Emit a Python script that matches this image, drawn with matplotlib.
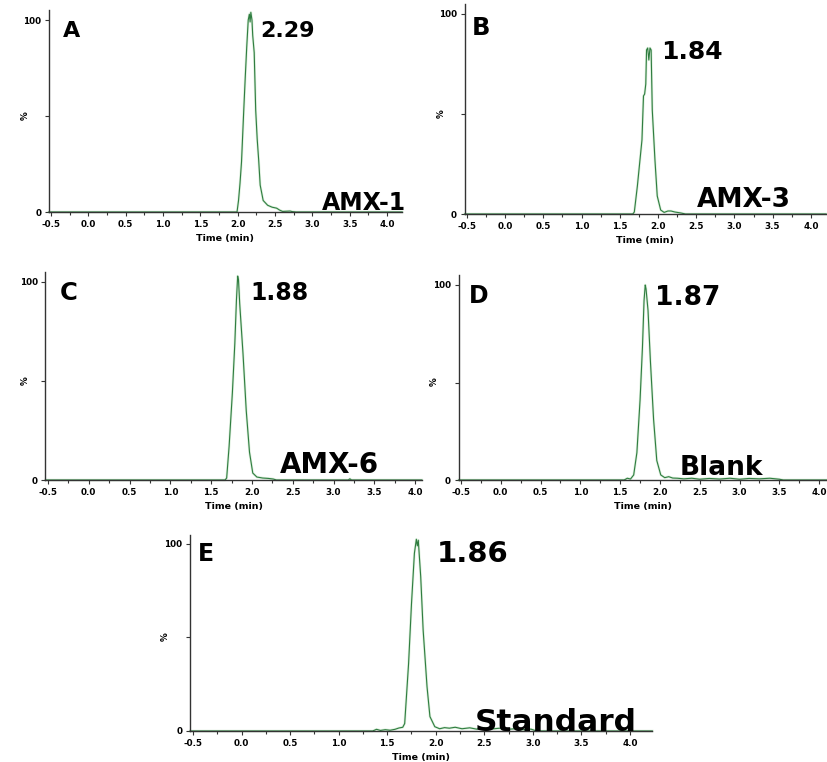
import matplotlib
matplotlib.use('Agg')
import matplotlib.pyplot as plt
from matplotlib.ticker import FixedLocator, MultipleLocator

# chromatogram traces (time in min, intensity in %)
a_time = [-0.53, 1.99, 2.01, 2.03, 2.05, 2.08, 2.10, 2.12, 2.14, 2.155, 2.165, 2.175, 2.19, 2.20, 2.22, 2.24,
          2.26, 2.28, 2.30, 2.34, 2.40, 2.46, 2.52, 2.56, 2.60, 2.70, 2.73, 2.78, 4.20]
a_int = [0, 0, 6, 15, 26, 53, 70, 86, 100, 103, 99, 104, 100, 92, 83, 53,
         38, 27, 14, 6, 3.5, 2.5, 2, 1, 0.3, 0.5, 0.2, 0, 0]

b_time = [-0.53, 1.67, 1.69, 1.73, 1.79, 1.81, 1.825, 1.84, 1.85, 1.865, 1.88, 1.895, 1.91, 1.925, 1.96, 1.99,
          2.035, 2.08, 2.13, 2.17, 2.22, 2.30, 2.36, 4.20]
b_int = [0, 0, 1, 14, 37, 59, 60, 65, 82, 83, 77, 83, 82, 52, 27, 9,
         2, 0.8, 1.5, 1.5, 1, 0.5, 0, 0]

c_time = [-0.53, 1.67, 1.69, 1.72, 1.76, 1.79, 1.81, 1.825, 1.835, 1.85, 1.89, 1.93, 1.97, 2.01, 2.06, 2.13,
          2.20, 2.26, 2.30, 3.18, 3.20, 3.22, 4.08]
c_int = [0, 0, 1, 17, 44, 69, 91, 103, 101, 89, 64, 35, 14, 3.5, 1.5, 1,
         0.8, 0.5, 0, 0, 0.6, 0, 0]

d_time = [-0.53, 1.55, 1.59, 1.63, 1.67, 1.71, 1.75, 1.78, 1.80, 1.815, 1.825, 1.85, 1.88, 1.92, 1.96, 2.01,
          2.06, 2.11, 2.16, 2.22, 2.30, 2.40, 2.50, 2.62, 2.75, 2.88, 3.00, 3.12, 3.25, 3.38, 3.50, 3.55, 4.10]
d_int = [0, 0, 0.9, 0.5, 2.6, 14, 41, 68, 92, 100, 98, 87, 61, 31, 10, 2.6,
         1.2, 1.7, 1, 0.9, 0.6, 0.9, 0.4, 0.8, 0.5, 0.9, 0.4, 0.8, 0.6, 0.9, 0.4, 0, 0]

e_time = [-0.53, 1.35, 1.39, 1.43, 1.48, 1.53, 1.58, 1.62, 1.66, 1.68, 1.72, 1.75, 1.78, 1.80, 1.81, 1.82,
          1.845, 1.87, 1.91, 1.94, 1.99, 2.04, 2.09, 2.14, 2.20, 2.27, 2.35, 2.42, 2.50, 2.58, 2.66, 2.74,
          2.82, 2.90, 2.98, 3.04, 4.23]
e_int = [0, 0, 0.9, 0.3, 0.7, 0.4, 0.9, 1.6, 2, 4, 36, 68, 95, 102.5, 99, 102,
         82.5, 54, 23.7, 7.7, 2.3, 1.2, 1.8, 1.5, 2.0, 1.2, 1.7, 1.0, 1.6, 1.1, 1.5, 0.9,
         1.2, 0.7, 1.0, 0, 0]

panel_letters = ['A', 'B', 'C', 'D', 'E']
rt_labels = ['2.29', '1.84', '1.88', '1.87', '1.86']
sample_names = ['AMX-1', 'AMX-3', 'AMX-6', 'Blank', 'Standard']
x_ticks = [-0.5, 0.0, 0.5, 1.0, 1.5, 2.0, 2.5, 3.0, 3.5, 4.0]
y_ticks = [0, 50, 100]
y_tick_labels = ['0', '', '100']

W, H = 828, 762
# axes boxes in pixels: left, baseline y, width, height ; x right limit
panels = [
    dict(t=a_time, y=a_int, box=(48.8, 212, 353.3, 201.6), xmax=4.20,
         letter=(63, 37, 16), rt=(260, 37, 16), name=(322, 210, 17), ylab=30),
    dict(t=b_time, y=b_int, box=(464.7, 214, 361.4, 210.0), xmax=4.20,
         letter=(472, 35, 17.5), rt=(661, 59, 18), name=(697, 207, 19), ylab=446),
    dict(t=c_time, y=c_int, box=(45.5, 480, 376.2, 207.9), xmax=4.08,
         letter=(60, 300, 17.5), rt=(250, 300, 17), name=(280, 473, 20), ylab=30),
    dict(t=d_time, y=d_int, box=(458.6, 480, 368.5, 204.75), xmax=4.10,
         letter=(469, 303, 17), rt=(655, 305, 19), name=(680, 475, 19), ylab=439),
    dict(t=e_time, y=e_int, box=(190.1, 731, 462.2, 196.4), xmax=4.23,
         letter=(198, 561, 17), rt=(437, 562, 21), name=(475, 731, 22.5), ylab=170),
]

fig = plt.figure(figsize=(W / 100, H / 100), dpi=100)
fig.patch.set_facecolor('white')
big = dict(family='DejaVu Sans', weight='bold', color='black', ha='left', va='baseline', zorder=10)

for i, p in enumerate(panels):
    left, base, width, height = p['box']
    ax = fig.add_axes([left / W, 1 - base / H, width / W, height / H])
    ax.plot(p['t'], p['y'], color='#dcefdc', lw=1.8, clip_on=False, zorder=1)
    ax.plot(p['t'], p['y'], color='#2f7d40', lw=0.8, clip_on=False, zorder=2)
    ax.set_xlim(-0.53, p['xmax'])
    ax.set_ylim(0, 105)
    for s in ['top', 'right']:
        ax.spines[s].set_visible(False)
    for s in ['left', 'bottom']:
        ax.spines[s].set_color('#333333')
        ax.spines[s].set_linewidth(1.0)
    ax.xaxis.set_major_locator(FixedLocator(x_ticks))
    ax.set_xticklabels([f'{v:.1f}' for v in x_ticks])
    ax.xaxis.set_minor_locator(MultipleLocator(0.25))
    ax.set_yticks(y_ticks)
    ax.set_yticklabels(y_tick_labels)
    ax.tick_params(axis='both', which='major', direction='out', length=3, width=0.8,
                   color='#333333', labelsize=6.3, pad=2.5)
    ax.tick_params(axis='x', which='minor', direction='out', length=2.5, width=0.8, color='#333333')
    for lab in ax.get_xticklabels() + ax.get_yticklabels():
        lab.set_fontweight('bold')
    ax.set_xlabel('Time (min)', fontsize=6.8, fontweight='bold')
    ax.xaxis.set_label_coords(0.5, -22 / height)
    ax.set_ylabel('%', fontsize=6.3, fontweight='bold')
    ax.yaxis.set_label_coords((p['ylab'] - left) / width, 0.48)

    lx, ly, ls = p['letter']
    fig.text(lx / W, 1 - ly / H, panel_letters[i], fontsize=ls, **big)
    rx, ry, rs = p['rt']
    fig.text(rx / W, 1 - ry / H, rt_labels[i], fontsize=rs, **big)
    nx, ny, ns = p['name']
    fig.text(nx / W, 1 - ny / H, sample_names[i], fontsize=ns, **big)

fig.savefig('out.png', dpi=100, facecolor='white')
